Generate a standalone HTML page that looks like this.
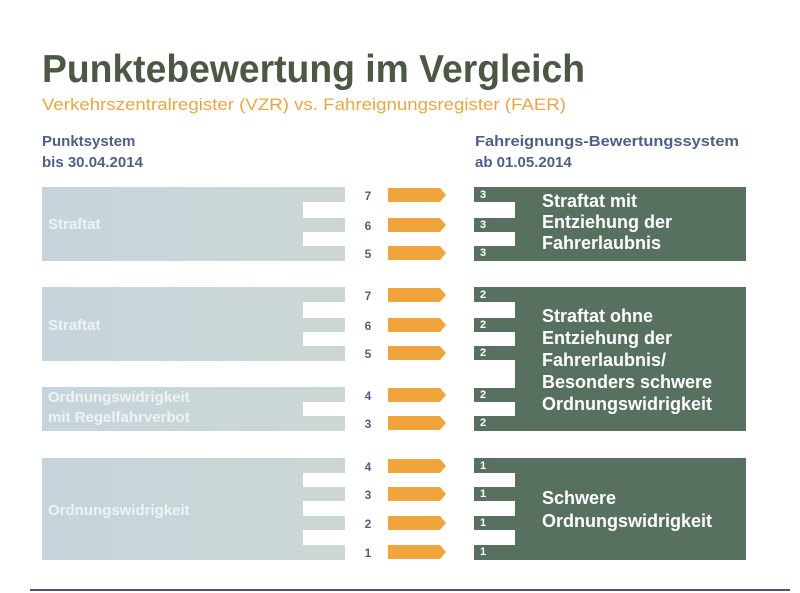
<!DOCTYPE html>
<html><head><meta charset="utf-8">
<style>
body{margin:0;background:#fff;width:800px;height:593px;overflow:hidden;font-family:"Liberation Sans",sans-serif}
svg{display:block}
text{font-family:"Liberation Sans",sans-serif}
</style></head>
<body>
<svg width="800" height="593" viewBox="0 0 800 593">
<defs>
<linearGradient id="lg" x1="0" x2="1" y1="0" y2="0">
<stop offset="0" stop-color="#c6d5dc"/><stop offset="1" stop-color="#ccd6d4"/>
</linearGradient>
</defs>
<text x="42" y="82" font-size="39" font-weight="bold" fill="#4b5843" textLength="543" lengthAdjust="spacingAndGlyphs">Punktebewertung im Vergleich</text>
<text x="42" y="110" font-size="17" fill="#e9a646" textLength="524" lengthAdjust="spacingAndGlyphs">Verkehrszentralregister (VZR) vs. Fahreignungsregister (FAER)</text>
<text x="42" y="146" font-size="15" font-weight="bold" fill="#4f5f85">Punktsystem</text>
<text x="42" y="167" font-size="15" font-weight="bold" fill="#4f5f85">bis 30.04.2014</text>
<text x="475" y="146" font-size="15" font-weight="bold" fill="#4f5f85" textLength="264" lengthAdjust="spacingAndGlyphs">Fahreignungs-Bewertungssystem</text>
<text x="475" y="167" font-size="15" font-weight="bold" fill="#4f5f85">ab 01.05.2014</text>
<g id="marks"></g>
<line x1="30" y1="590" x2="790" y2="590" stroke="#4a5570" stroke-width="2"/>
</svg>
<script>
const oldPoints=[7,6,5,7,6,5,4,3,4,3,2,1];
const newPoints=[3,3,3,2,2,2,2,2,1,1,1,1];
const rowY=[195,225,253,295,325,353,395,423,466,494,523,552];
const leftGroups=[{rows:[0,2],label:["Straftat"],ly:[229]},{rows:[3,5],label:["Straftat"],ly:[330]},{rows:[6,7],label:["Ordnungswidrigkeit","mit Regelfahrverbot"],ly:[402,422]},{rows:[8,11],label:["Ordnungswidrigkeit"],ly:[515]}];
const rightGroups=[{rows:[0,2],label:["Straftat mit","Entziehung der","Fahrerlaubnis"],ly:[207,228,249]},{rows:[3,7],label:["Straftat ohne","Entziehung der","Fahrerlaubnis/","Besonders schwere","Ordnungswidrigkeit"],ly:[322,344,366,388,410]},{rows:[8,11],label:["Schwere","Ordnungswidrigkeit"],ly:[504,527]}];
const NS="http://www.w3.org/2000/svg";
const g=document.getElementById('marks');
function mk(t,a){const e=document.createElementNS(NS,t);for(const k in a)e.setAttribute(k,a[k]);g.appendChild(e);return e;}
const H=7;
function block(grp,x1,x2,nx1,nx2,fill,name){
  const top=rowY[grp.rows[0]]-8,bot=rowY[grp.rows[1]]+8;
  const r=mk('rect',{x:x1,y:top,width:x2-x1,height:bot-top,fill:fill});
  
  
  for(let i=grp.rows[0];i<grp.rows[1];i++){
    const a=rowY[i]+H,b=rowY[i+1]-H;
    const n=mk('rect',{x:nx1,y:a,width:nx2-nx1,height:b-a,fill:'#fff'});
    
    
  }
}
leftGroups.forEach((gr,i)=>{
  block(gr,42,345,303,346,'url(#lg)','old-category-block');
  gr.label.forEach((s,j)=>{const t=mk('text',{x:48,y:gr.ly[j],'font-size':15,'font-weight':'bold',fill:'#eef3f3'});t.textContent=s;
  
  });
});
rightGroups.forEach((gr,i)=>{
  block(gr,474,746,473,515,'#58705f','new-category-block');
  gr.label.forEach((s,j)=>{const t=mk('text',{x:542,y:gr.ly[j],'font-size':18,'font-weight':'bold',fill:'#fff'});t.textContent=s;
  
  });
});
rowY.forEach((y,i)=>{
  const n=mk('text',{x:368,y:y+5,'font-size':12,'font-weight':'bold',fill:'#4f5f85','text-anchor':'middle'});
  n.textContent=oldPoints[i];
  
  
  const p=mk('polygon',{points:`388,${y-7} 440,${y-7} 446,${y} 440,${y+7} 388,${y+7}`,fill:'#f0a43c'});
  
  
  const m=mk('text',{x:480,y:y+3,'font-size':11,'font-weight':'bold',fill:'#fff'});
  m.textContent=newPoints[i];
  
  
});
</script>
</body></html>
